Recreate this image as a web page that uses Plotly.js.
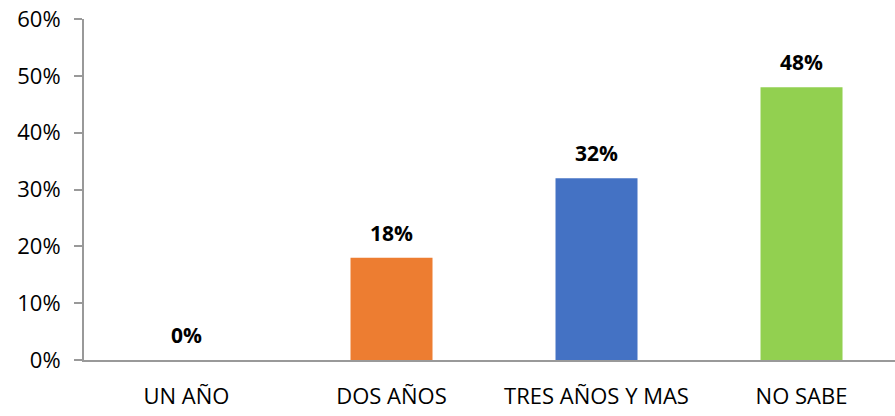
<!DOCTYPE html>
<html>
<head>
<meta charset="utf-8">
<script src="https://cdn.plot.ly/plotly-3.0.1.min.js"></script>
<style>html,body{margin:0;padding:0;background:#fff;}#chart{width:895px;height:416px;}</style>
</head>
<body>
<div id="chart"></div>
<script>
const categories = ["UN AÑO", "DOS AÑOS", "TRES AÑOS Y MAS", "NO SABE"];
const values = [0, 0.18, 0.32, 0.48];
const labels = ["0%", "18%", "32%", "48%"];
const colors = ["#A5A5A5", "#ED7D31", "#4472C4", "#92D050"];
const yTickVals = [0, 0.1, 0.2, 0.3, 0.4, 0.5, 0.6];
const yTickText = ["0%", "10%", "20%", "30%", "40%", "50%", "60%"];

const idx = categories.map((c, i) => i);

const trace = {
  type: "bar",
  x: idx,
  y: values,
  width: 0.4,
  marker: {color: colors, line: {width: 0}},
  hoverinfo: "none"
};

const annotations = idx.map(i => ({
  x: i, y: values[i], xref: "x", yref: "y",
  text: "<b>" + labels[i] + "</b>",
  showarrow: false, yanchor: "bottom", yshift: 9,
  font: {family: "Open Sans, sans-serif", size: 21, color: "#000"}
}));

const layout = {
  width: 895, height: 416,
  margin: {l: 84, r: 0, t: 19, b: 56},
  paper_bgcolor: "#fff", plot_bgcolor: "#fff",
  showlegend: false,
  xaxis: {
    range: [-0.5, 3.456],
    tickvals: idx, ticktext: categories,
    showgrid: false, zeroline: false,
    showline: true, linecolor: "#999", linewidth: 2,
    ticks: "",
    ticklabelstandoff: 16,
    tickfont: {family: "Open Sans, sans-serif", size: 22, color: "#000"},
    fixedrange: true
  },
  yaxis: {
    range: [0, 0.6],
    tickvals: yTickVals, ticktext: yTickText,
    showgrid: false, zeroline: false,
    showline: true, linecolor: "#999", linewidth: 2,
    ticks: "outside", ticklen: 8, tickcolor: "#999", tickwidth: 2,
    ticklabelstandoff: 9,
    tickfont: {family: "Open Sans, sans-serif", size: 22, color: "#000"},
    fixedrange: true
  },
  annotations: annotations
};

// category boundary ticks drawn as short lines below the x axis
layout.shapes = [-0.5, 0.5, 1.5, 2.5].map(v => ({
  type: "line", xref: "x", yref: "y",
  x0: v, x1: v, y0: 0, y1: -0.6 * 10 / 341,
  line: {color: "#999", width: 2}
}));

Plotly.newPlot("chart", [trace], layout, {displayModeBar: false, staticPlot: true});
</script>
</body>
</html>
